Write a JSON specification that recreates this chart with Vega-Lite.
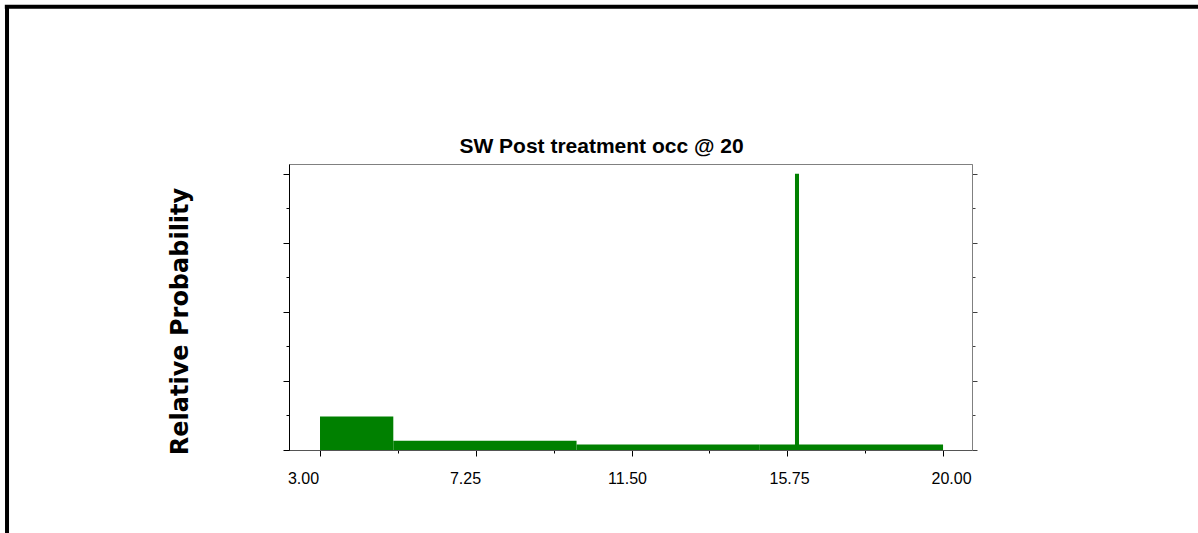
{
  "$schema": "https://vega.github.io/schema/vega-lite/v6.json",
  "width": 683,
  "height": 286,
  "autosize": "none",
  "padding": {"left": 289, "top": 164, "right": 226, "bottom": 83},
  "background": "white",
  "config": {"view": {"stroke": "#808080", "strokeWidth": 1}},
  "title": {
    "text": "SW Post treatment occ @ 20",
    "font": "Liberation Sans",
    "fontSize": 21,
    "fontWeight": "bold",
    "color": "black",
    "anchor": "middle",
    "frame": "group",
    "dx": -29,
    "dy": 178,
    "offset": 7,
    "baseline": "alphabetic"
  },
  "datasets": {
    "bins": [
      {"start": 3.0, "end": 5.0, "prob": 0.97},
      {"start": 5.0, "end": 10.0, "prob": 0.27},
      {"start": 10.0, "end": 15.0, "prob": 0.16},
      {"start": 15.0, "end": 20.0, "prob": 0.16},
      {"start": 15.96, "end": 16.07, "prob": 8.0}
    ],
    "frame": [
      {"fx": -5.6, "fx2": 26.96, "fy": 12.83, "fy2": 12.83},
      {"fx": -5.54, "fx2": -5.54, "fy": 12.88, "fy2": -2.4}
    ]
  },
  "layer": [
    {
      "data": {"name": "bins"},
      "mark": {"type": "rect", "color": "#008000"},
      "encoding": {
        "x": {
          "field": "start",
          "type": "quantitative",
          "scale": {"domain": [2.154, 20.79], "nice": false, "zero": false},
          "axis": {
            "orient": "bottom",
            "title": null,
            "grid": false,
            "values": [3, 5.125, 7.25, 9.375, 11.5, 13.625, 15.75, 17.875, 20],
            "labelExpr": "round((datum.value - 3) / 2.125) % 2 == 0 ? format(datum.value, '.2f') : ''",
            "tickSize": {"condition": {"test": "round((datum.value - 3) / 2.125) % 2 == 0", "value": 6}, "value": 3},
            "tickColor": "black",
            "domainColor": "#555555",
            "labelFont": "Liberation Sans",
            "labelFontSize": 16,
            "labelColor": "black",
            "labelBaseline": "alphabetic",
            "labelPadding": 27,
            "labelOffset": {"expr": "-17 + (datum.value - 3) * 25 / 17"},
            "labelFlush": false,
            "labelOverlap": false
          }
        },
        "x2": {"field": "end"},
        "y": {
          "field": "prob",
          "type": "quantitative",
          "scale": {"domain": [0, 8.28], "nice": false},
          "axis": {
            "orient": "left",
            "grid": false,
            "values": [0, 1, 2, 3, 4, 5, 6, 7, 8],
            "labels": false,
            "tickSize": {"condition": {"test": "datum.value % 2 == 0", "value": 6}, "value": 3},
            "tickColor": "black",
            "domainColor": "black",
            "title": "Relative Probability",
            "titleFont": "DejaVu Sans",
            "titleFontSize": 24,
            "titleFontWeight": "bold",
            "titleColor": "black",
            "titleAngle": -90,
            "titleAlign": "center",
            "titleBaseline": "alphabetic",
            "titleX": -102,
            "titleY": 157
          }
        },
        "y2": {"datum": 0}
      }
    },
    {
      "data": {"name": "frame"},
      "mark": {"type": "rule", "color": "black", "strokeWidth": 4, "clip": false},
      "encoding": {
        "x": {"field": "fx", "type": "quantitative", "scale": {"domain": [2.154, 20.79], "nice": false, "zero": false}, "axis": null},
        "x2": {"field": "fx2"},
        "y": {
          "field": "fy",
          "type": "quantitative",
          "scale": {"domain": [0, 8.28], "nice": false},
          "axis": {
            "orient": "right",
            "grid": false,
            "values": [0, 1, 2, 3, 4, 5, 6, 7, 8],
            "labels": false,
            "title": null,
            "tickSize": {"condition": {"test": "datum.value % 2 == 0", "value": 5}, "value": 3},
            "tickColor": "#404040",
            "domainColor": "#808080"
          }
        },
        "y2": {"field": "fy2"}
      }
    }
  ],
  "resolve": {"axis": {"x": "independent", "y": "independent"}}
}
